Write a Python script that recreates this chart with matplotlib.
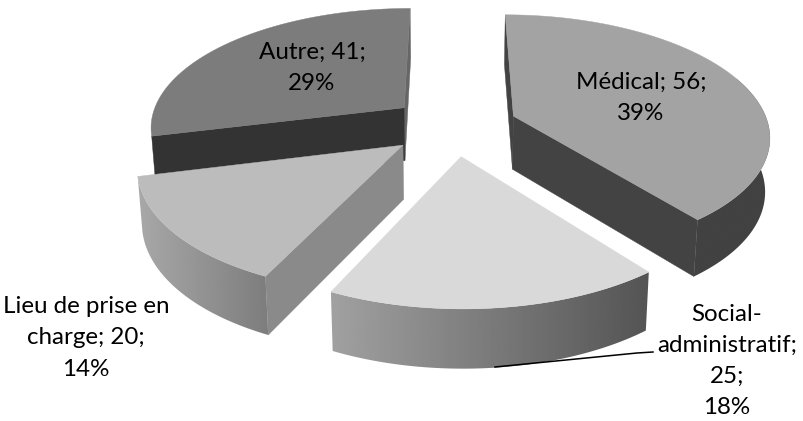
import numpy as np
import matplotlib
matplotlib.use('Agg')
import matplotlib.pyplot as plt
from matplotlib.patches import Polygon

# Data
names = ['Médical', 'Social-administratif', 'Lieu de prise en charge', 'Autre']
values = [56, 25, 20, 41]
percents = [39, 18, 14, 29]

# Label text, wrapped the way the chart wraps it
label_lines = [
    ['Médical; 56;', '39%'],
    ['Social-', 'administratif;', '25;', '18%'],
    ['Lieu de prise en', 'charge; 20;', '14%'],
    ['Autre; 41;', '29%'],
]
label_pos = [(641, 98), (727, 361), (86, 338), (312, 68)]

# Colours: top face, radial faces, outer face start/end (None = not visible)
top_colors = ['#a3a3a3', '#d9d9d9', '#bcbcbc', '#7c7c7c']
side_colors = [('#434343', '#434343'), ('#8c8c8c', '#8c8c8c'), ('#8a8a8a', '#8a8a8a'), ('#333333', '#666666')]
outer_colors = [(0.26, 0.26), (0.63, 0.33), (0.66, 0.49), None]

# Projection of the tilted pie
VX, VY = 450.0, -670.0
Y0 = 200.0
DIST = 1704.0
RADIUS = 279.0
CENTER = (4.0, 159.0)
EXPLODE = 70.0
BOTTOM_SHRINK = 0.985


def project(x, y, bottom=False):
    """Ground coordinates to pixel coordinates, top or bottom face."""
    s = DIST / (DIST + y)
    sx = x * s
    sy = VY + (Y0 - VY) * s
    if bottom:
        return VX + sx * BOTTOM_SHRINK, sy + 26 + 30 * s
    return VX + sx, sy


def ground_arc(apex, a0, a1, n=120):
    t = np.radians(np.linspace(a0, a1, n))
    return apex[0] + RADIUS * np.sin(t), apex[1] + RADIUS * np.cos(t)


def radial_face(ax, apex, angle, normal, color, z):
    """Flat cut face of a slice, skipped when it looks away from the viewer."""
    if np.cos(np.radians(normal)) > 0.01:
        return
    ex, ey = ground_arc(apex, angle, angle, 1)
    p = [project(apex[0], apex[1]), project(ex[0], ey[0]),
         project(ex[0], ey[0], True), project(apex[0], apex[1], True)]
    ax.fill(*zip(*p), color=color, lw=0.3, zorder=z)


fig = plt.figure(figsize=(8.04, 4.21), dpi=100)
ax = fig.add_axes([0, 0, 1, 1])

edges = np.concatenate([[0], np.cumsum(values)]) / np.sum(values) * 360
draw_order = [3, 2, 0, 1]  # back to front

for rank, i in enumerate(draw_order):
    z = 10 * (rank + 1)
    a0, a1 = edges[i], edges[i + 1]
    mid = np.radians((a0 + a1) / 2)
    apex = (CENTER[0] + EXPLODE * np.sin(mid), CENTER[1] + EXPLODE * np.cos(mid))

    arc_x, arc_y = ground_arc(apex, a0, a1)
    tx, ty = project(arc_x, arc_y)
    bx, by = project(arc_x, arc_y, True)

    # outer face, shaded left to right and clipped to its outline
    if outer_colors[i] is not None:
        front = np.cos(np.radians(np.linspace(a0, a1, len(tx)))) < 0.35
        outline = np.column_stack([np.r_[tx[front], bx[front][::-1]], np.r_[ty[front], by[front][::-1]]])
        g0, g1 = outer_colors[i]
        shade = np.linspace(g0, g1, 256).reshape(1, -1)
        im = ax.imshow(shade, cmap='gray', vmin=0, vmax=1, aspect='auto', zorder=z,
                       extent=[outline[:, 0].min(), outline[:, 0].max(), outline[:, 1].max(), outline[:, 1].min()])
        clip = Polygon(outline, closed=True, transform=ax.transData, facecolor='none', edgecolor='none')
        ax.add_patch(clip)
        im.set_clip_path(clip)

    radial_face(ax, apex, a1, a1 + 90, side_colors[i][1], z + 1)
    radial_face(ax, apex, a0, a0 - 90, side_colors[i][0], z + 2)

    # top face
    apex_x, apex_y = project(apex[0], apex[1])
    ax.fill(np.r_[apex_x, tx], np.r_[apex_y, ty], color=top_colors[i], lw=0.3, zorder=z + 3)

# Labels
for lines, (x, y) in zip(label_lines, label_pos):
    ax.text(x, y, '\n'.join(lines), ha='center', va='center', fontsize=17.4, zorder=100,
            family='Lato', color='black', linespacing=1.6, multialignment='center')

# Leader line of the social label
ax.plot([495, 637, 653], [367, 353, 352], color='black', lw=1.1, zorder=90)

ax.set_xlim(0, 804)
ax.set_ylim(421, 0)
ax.axis('off')

fig.savefig('out.png', dpi=100)
